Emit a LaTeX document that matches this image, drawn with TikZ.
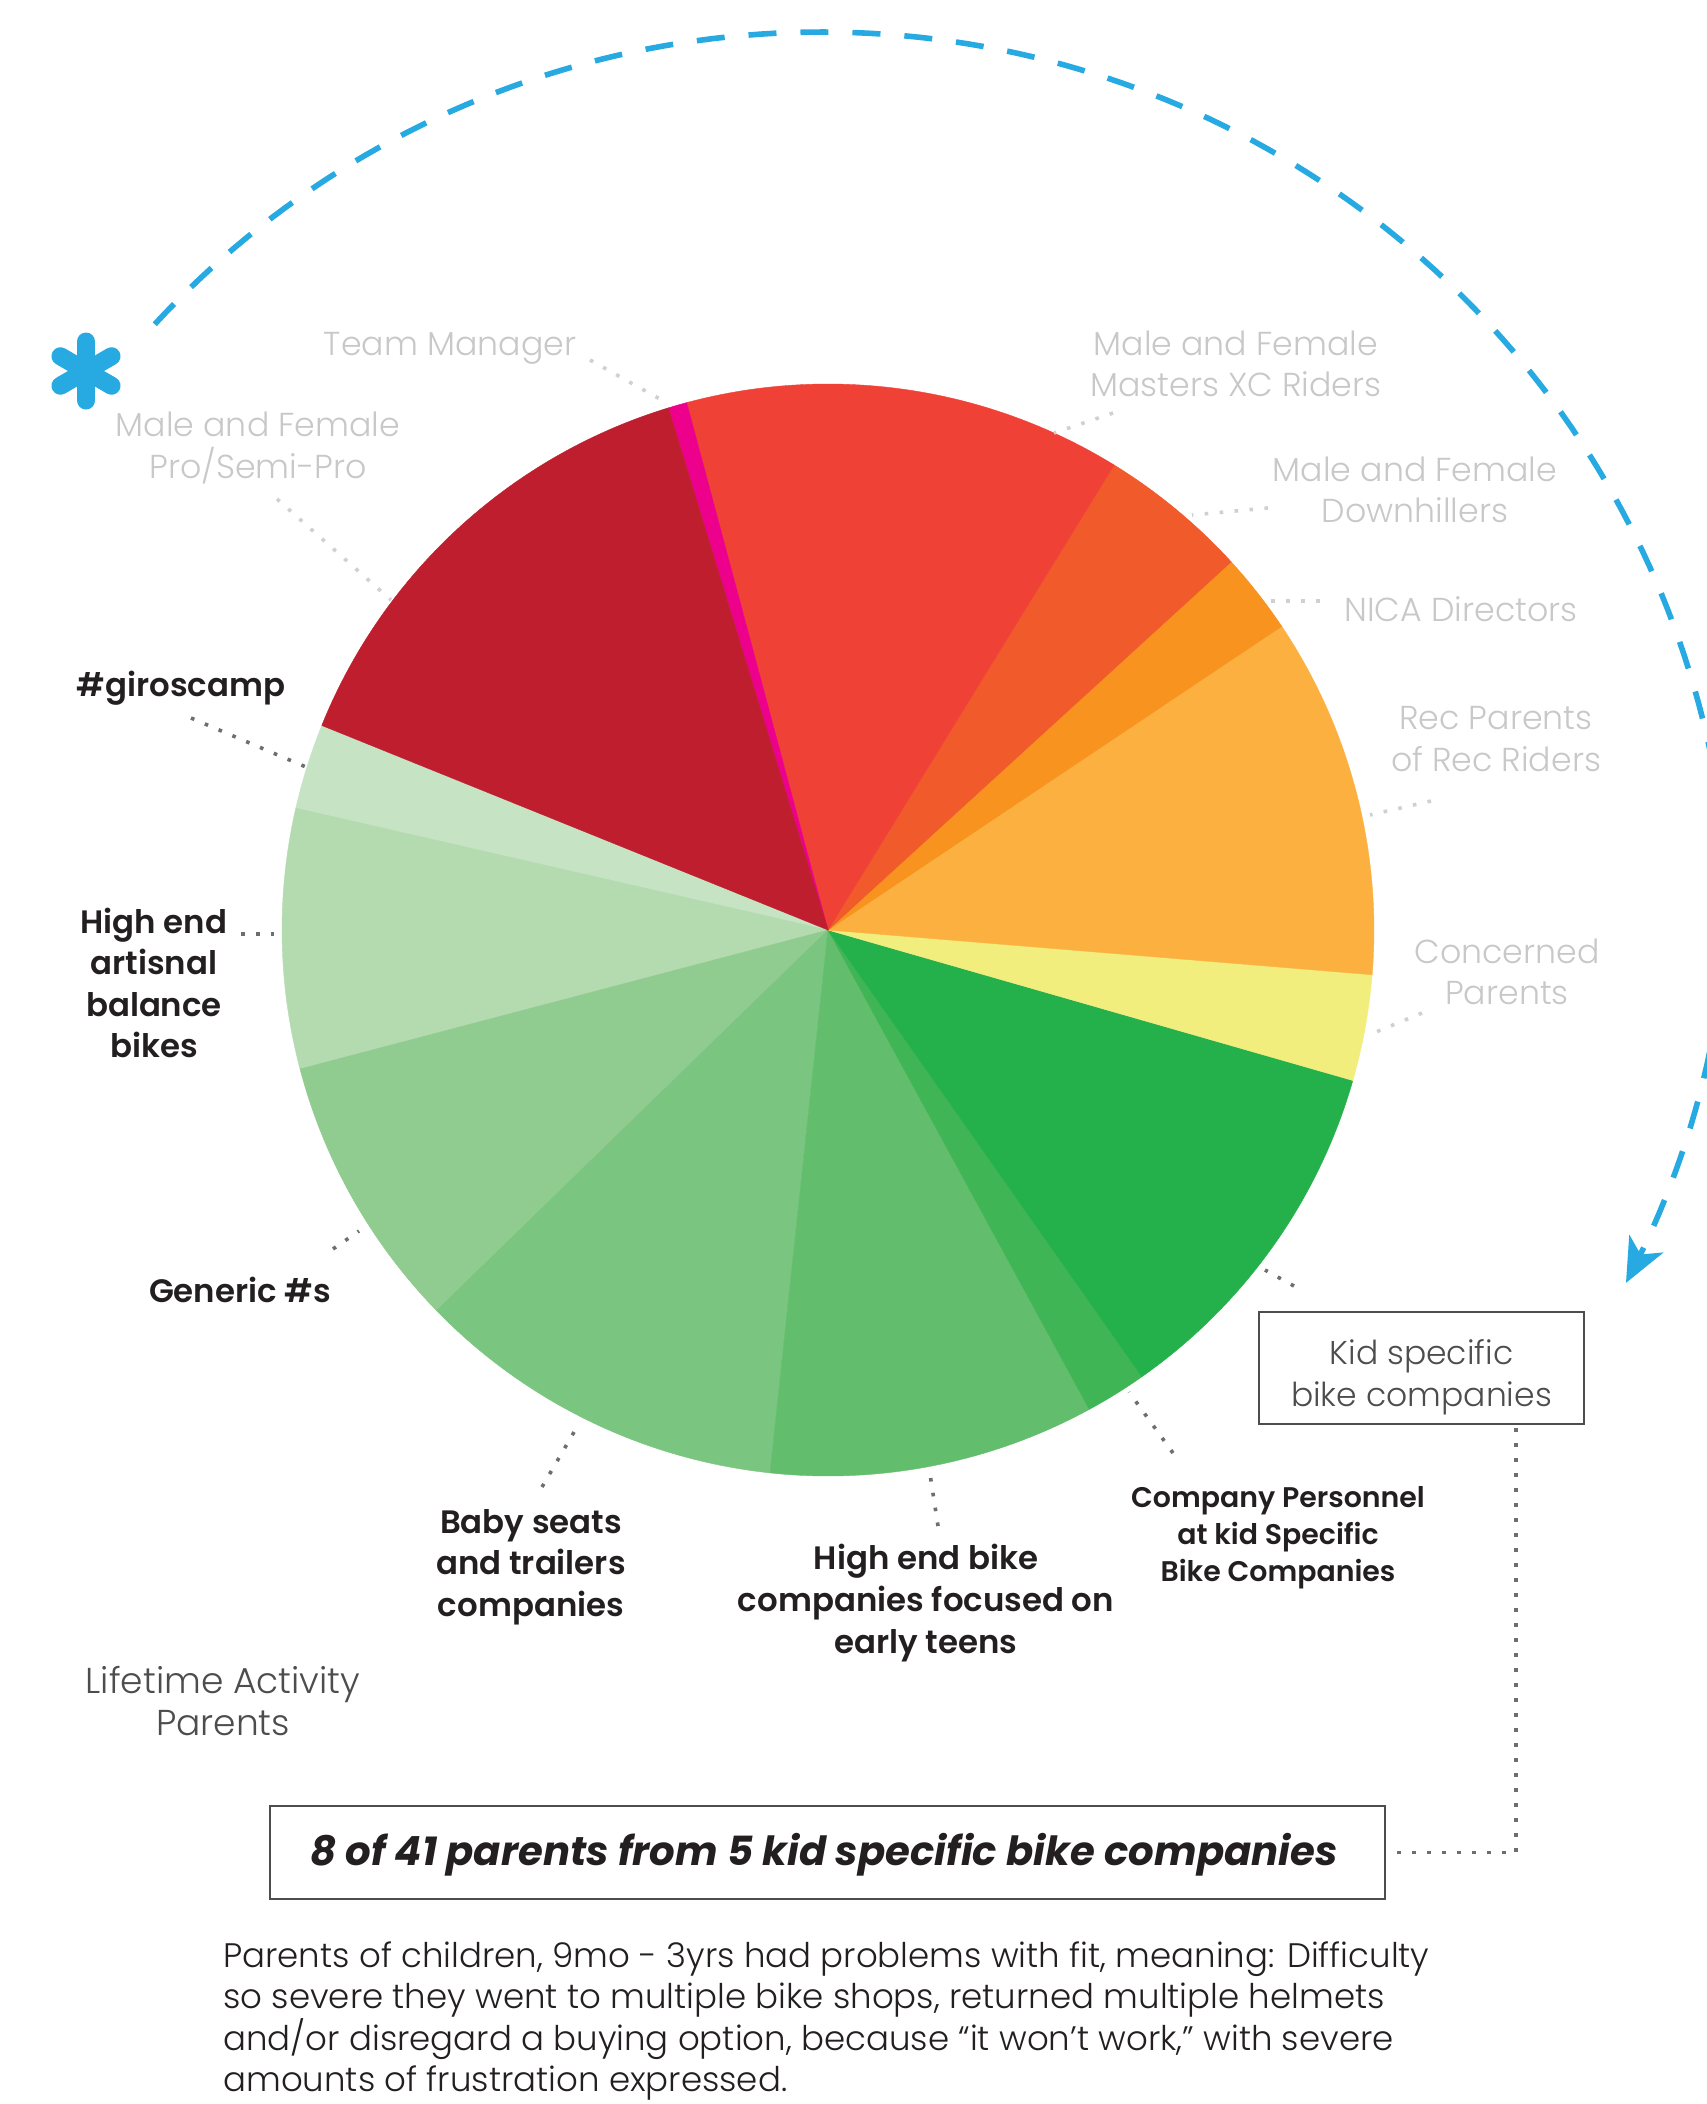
\documentclass[tikz,border=0pt]{standalone}
\usepackage{fontspec}
\usetikzlibrary{arrows.meta}
\IfFontExistsTF{Poppins Light}{\newfontfamily\lightf{Poppins Light}}{\newfontfamily\lightf{Poppins}}
\IfFontExistsTF{Poppins SemiBold}{\newfontfamily\semif{Poppins SemiBold}}{\newfontfamily\semif{Poppins}[FakeBold=1.2]}
\newfontfamily\boldf{Poppins}
\definecolor{cDR}{HTML}{BE1E2D}
\definecolor{cPK}{HTML}{EC008C}
\definecolor{cRD}{HTML}{EF4136}
\definecolor{cOR}{HTML}{F15A2B}
\definecolor{cOG}{HTML}{F7931E}
\definecolor{cLO}{HTML}{FBB040}
\definecolor{cYE}{HTML}{F2EE7E}
\definecolor{cGa}{HTML}{24B14B}
\definecolor{cGb}{HTML}{40B555}
\definecolor{cGc}{HTML}{62BD6D}
\definecolor{cGd}{HTML}{7AC57F}
\definecolor{cGe}{HTML}{90CB8F}
\definecolor{cGf}{HTML}{B3DBAF}
\definecolor{cGg}{HTML}{C6E3C4}
\definecolor{labgray}{HTML}{C8C8C8}
\definecolor{darktxt}{HTML}{231F20}
\definecolor{midtxt}{HTML}{4D4D4F}
\definecolor{dotlight}{HTML}{D0D0D0}
\definecolor{dotdark}{HTML}{6D6E71}
\definecolor{boxgray}{HTML}{4D4D4F}
\definecolor{askblue}{HTML}{27AAE1}
\begin{document}
\begin{tikzpicture}[x=0.5pt,y=0.5pt,
  graylab/.style={font=\lightf\fontsize{16.6}{20.8}\selectfont, text=labgray, align=center, inner sep=0pt},
  boldlab/.style={font=\semif\fontsize{16.2}{20.8}\selectfont, text=darktxt, align=center, inner sep=0pt},
  smallbold/.style={font=\semif\fontsize{14.2}{18.5}\selectfont, text=darktxt, align=center, inner sep=0pt},
  lighttxt/.style={font=\lightf\fontsize{18}{20.8}\selectfont, text=midtxt, align=center, inner sep=0pt},
  lgdots/.style={draw=dotlight, line width=1.8pt, dash pattern=on 1.8pt off 5.7pt},
  dkdots/.style={draw=dotdark, line width=1.8pt, dash pattern=on 1.8pt off 5.7pt},
  bluedash/.style={draw=askblue, line width=2.8pt, dash pattern=on 14pt off 12pt},
  boxed/.style={draw=boxgray, line width=1pt},
  astline/.style={draw=askblue, line width=9pt, line cap=round},
]
\useasboundingbox (0,0) rectangle (1707,-2104);
% pie
\coordinate (pc) at (828,-930);
\foreach \a/\b/\c in {158/167.1/cGg, 167.1/194.75/cGf, 194.75/224.2/cGe, 224.2/263.9/cGd,
  263.9/298.6/cGc, 298.6/305.1/cGb, 305.1/344/cGa, 344/355.3/cYE, 355.3/393.8/cLO,
  33.8/42.4/cOG, 42.4/58.4/cOR, 58.4/105/cRD, 105/107/cPK, 107/158/cDR}
  \fill[\c, draw=\c, line width=0.2pt] (pc) -- ++(\a:546) arc[start angle=\a, end angle=\b, radius=546] -- cycle;
% asterisk
\coordinate (ast) at (86,-371);
\draw[astline, shift={(ast)}] (90:29.5) -- (270:29.5);
\draw[astline, shift={(ast)}] (30:29.5) -- (210:29.5);
\draw[astline, shift={(ast)}] (150:29.5) -- (330:29.5);
% dashed arc
\draw[bluedash, -{Stealth[length=22pt, width=19pt, inset=6pt]}]
  plot[domain=137.3:-23.1, samples=160, variable=\t]
  ({822+(908-max(0,3-\t)*1.3)*cos(\t)}, {-940+(908-max(0,3-\t)*1.3)*sin(\t)});
% gray labels
\node[graylab] (tm) at (450,-348) {Team Manager};
\node[graylab] (pro) at (258,-448) {Male and Female\\Pro/Semi-Pro};
\node[graylab] (mxc) at (1236,-364) {Male and Female\\Masters XC Riders};
\node[graylab] (dh) at (1415,-490) {Male and Female\\Downhillers};
\node[graylab] (nica) at (1461,-609) {NICA Directors};
\node[graylab] (rec) at (1496,-739) {Rec Parents\\of Rec Riders};
\node[graylab] (conc) at (1507,-972) {Concerned\\Parents};
% bold labels
\node[boldlab] (giro) at (181,-688) {\#giroscamp};
\node[boldlab] (art) at (154,-983) {High end\\artisnal\\balance\\bikes};
\node[boldlab] (gen) at (240,-1290) {Generic \#s};
\node[boldlab] (baby) at (531,-1567) {Baby seats\\and trailers\\companies};
\node[boldlab] (teen) at (926,-1603) {High end bike\\companies focused on\\early teens};
\node[smallbold] (pers) at (1278,-1538) {Company Personnel\\at kid Specific\\Bike Companies};
\node[boxed, minimum width=162.5pt, minimum height=56pt] (kid) at (1421.5,-1368) {};
\node[lighttxt, font=\lightf\fontsize{16.5}{20.8}\selectfont] (kidtxt) at (kid.center) [yshift=-4.5pt] {Kid specific\\bike companies};
\node[lighttxt] (life) at (223,-1701) {Lifetime Activity\\Parents};
\node[boxed, minimum width=557.5pt, minimum height=46.5pt] (big) at (827.5,-1852.5) {};
\node[font=\boldf\bfseries\itshape\fontsize{20.1}{24}\selectfont, text=darktxt, inner sep=0pt] (bigtxt) at (824,-1854.5) {8 of 41 parents from 5 kid specific bike companies};
\node[anchor=north west, align=left, inner sep=0pt, font=\lightf\fontsize{17}{20.8}\selectfont, text=darktxt] (para) at (223,-1941)
  {Parents of children, 9mo - 3yrs had problems with fit, meaning: Difficulty\\
   so severe they went to multiple bike shops, returned multiple helmets\\
   and/or disregard a buying option, because “it won’t work,” with severe\\
   amounts of frustration expressed.};
% leaders
\foreach \n/\xa/\ya/\xb/\yb in {tm/590/360/667/403, pro/277/499/391/600, mxc/1113/413/1054/433,
  dh/1268/508/1192/515, nica/1320/601/1270/601, rec/1431/801/1370/815, conc/1422/1013/1376/1032}{
  \coordinate (\n-a) at (\xa,-\ya); \coordinate (\n-b) at (\xb,-\yb);
  \draw[lgdots] (\n-a) -- (\n-b);}
\foreach \n/\xa/\ya/\xb/\yb in {giro/191/718/306/767, art/241/934/274/934, gen/333/1249/359/1231,
  kg/1294/1286/1265/1270, pers/1173/1453/1129/1392, baby/542/1487/577/1427, teen/938/1526/930/1474}{
  \coordinate (\n-a) at (\xa,-\ya); \coordinate (\n-b) at (\xb,-\yb);
  \draw[dkdots] (\n-a) -- (\n-b);}
\coordinate (kv) at (1516,-1428);
\coordinate (bv) at (1390,-1852.5);
\draw[dkdots] (kv) |- (bv);
\end{tikzpicture}
\end{document}
